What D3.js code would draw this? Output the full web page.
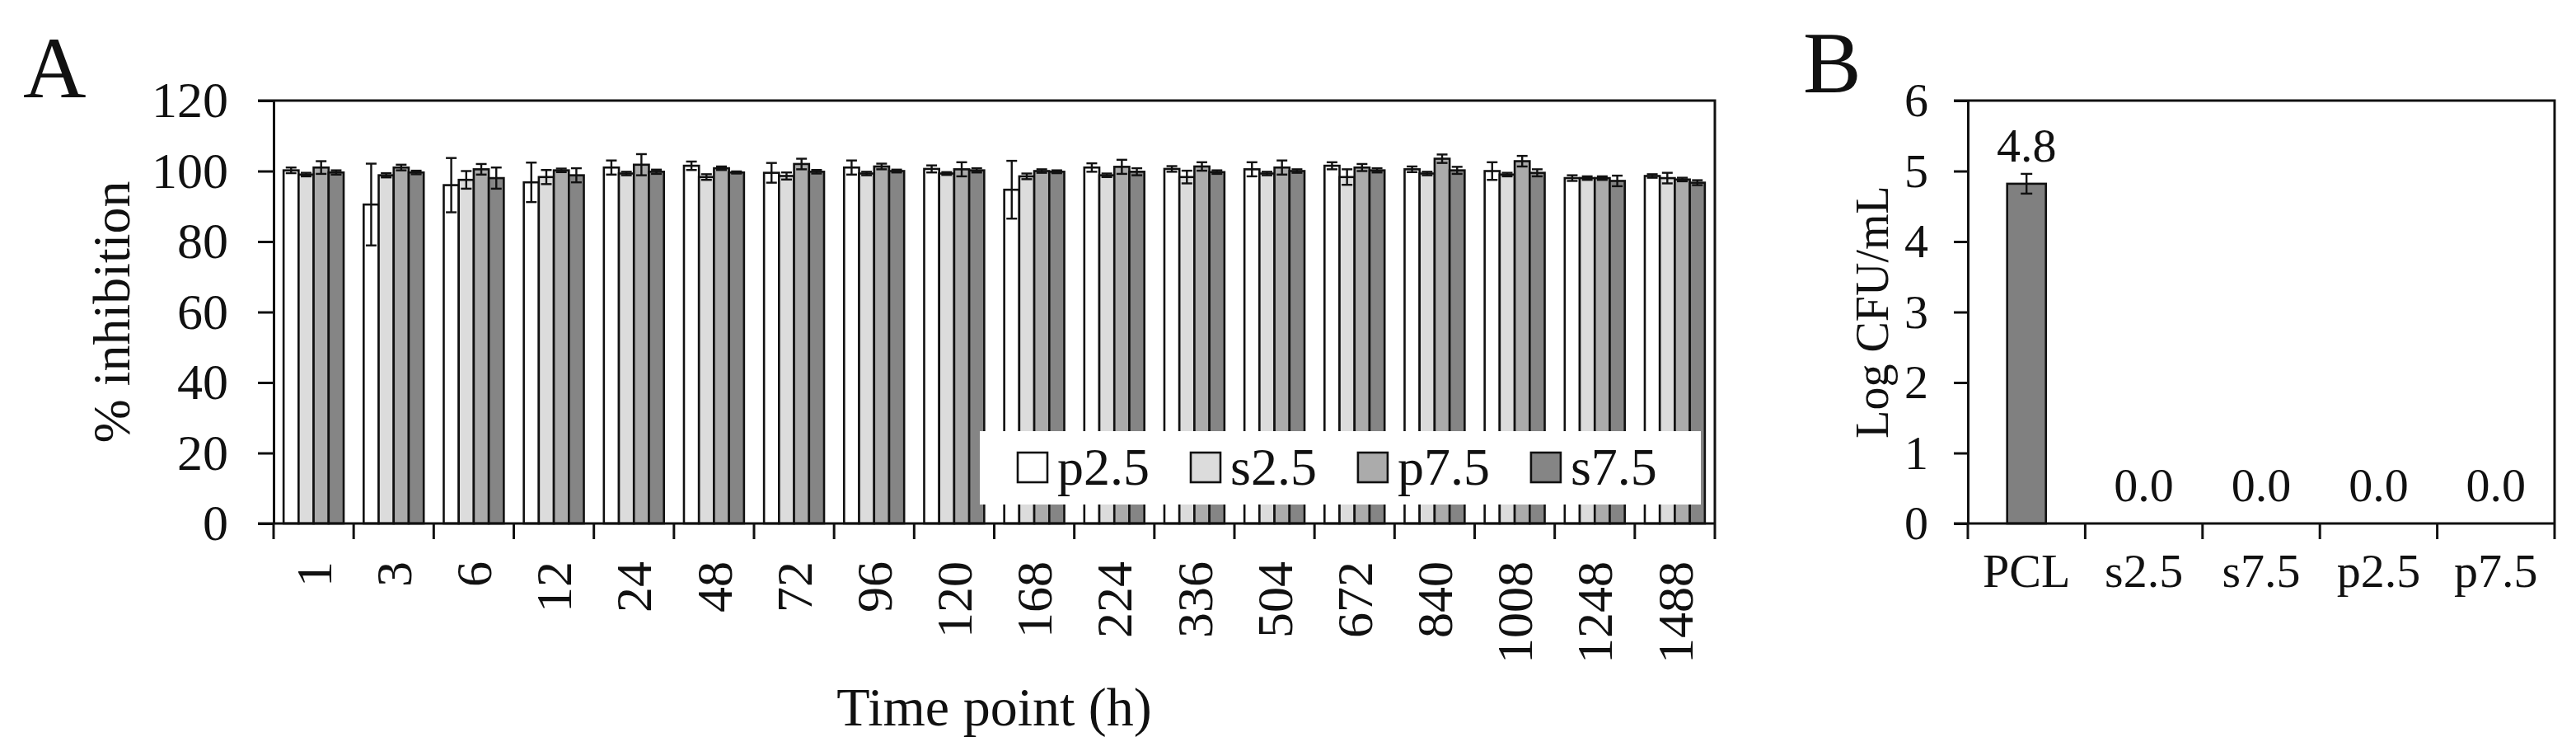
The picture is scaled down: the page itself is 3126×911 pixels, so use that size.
<!DOCTYPE html>
<html>
<head>
<meta charset="utf-8">
<script src="https://cdn.jsdelivr.net/npm/d3@7"></script>
<style>
  body { margin: 0; background: #fff; }
  text { font-family: "Times New Roman", "Liberation Serif", serif; fill: #111; }
</style>
</head>
<body>
<div id="chart"></div>
<script>
// panel A data
const times = ["1", "3", "6", "12", "24", "48", "72", "96", "120", "168", "224", "336", "504", "672", "840", "1008", "1248", "1488"];
const series = ["p2.5", "s2.5", "p7.5", "s7.5"];
const p25 = [100.2, 90.5, 96.0, 96.8, 101.0, 101.5, 99.5, 101.0, 100.6, 94.7, 101.0, 100.6, 100.5, 101.5, 100.5, 100.0, 98.0, 98.6];
const p25Err = [0.8, 11.6, 7.7, 5.6, 2.0, 1.2, 2.8, 2.0, 1.0, 8.2, 1.2, 0.8, 2.0, 1.0, 0.8, 2.5, 0.8, 0.5];
const s25 = [99.0, 98.8, 97.5, 98.3, 99.3, 98.3, 98.6, 99.3, 99.3, 98.5, 98.8, 98.3, 99.3, 98.3, 99.3, 99.0, 98.0, 98.0];
const s25Err = [0.5, 0.6, 2.5, 2.0, 0.5, 0.8, 1.0, 0.5, 0.4, 0.8, 0.5, 1.8, 0.5, 2.2, 0.5, 0.5, 0.5, 1.5];
const p75 = [101.0, 101.0, 100.5, 100.2, 101.8, 100.8, 102.0, 101.3, 100.5, 100.0, 101.2, 101.3, 101.0, 101.0, 103.5, 102.8, 98.0, 97.6];
const p75Err = [1.8, 0.8, 1.5, 0.5, 3.0, 0.5, 1.5, 0.8, 2.0, 0.5, 2.0, 1.2, 2.0, 1.0, 1.2, 1.5, 0.5, 0.5];
const s75 = [99.6, 99.6, 98.0, 98.8, 99.8, 99.6, 99.8, 100.0, 100.2, 99.8, 99.8, 99.7, 100.0, 100.2, 100.2, 99.5, 97.2, 96.7];
const s75Err = [0.6, 0.5, 3.0, 2.0, 0.6, 0.3, 0.5, 0.4, 0.6, 0.4, 1.0, 0.5, 0.5, 0.6, 1.0, 1.0, 1.5, 0.7];
const yTicksA = [0, 20, 40, 60, 80, 100, 120];

// panel B data
const groupsB = ["PCL", "s2.5", "s7.5", "p2.5", "p7.5"];
const cfu = [4.82, 0, 0, 0, 0];
const cfuErr = [0.14, 0, 0, 0, 0];
const yTicksB = [0, 1, 2, 3, 4, 5, 6];

const colors = ["#ffffff", "#dcdcdc", "#ababab", "#858585"];
const ink = "#111";

const W = 3126, H = 911;
const svg = d3.select("#chart").append("svg")
  .attr("width", W)
  .attr("height", H);

svg.append("rect").attr("width", W).attr("height", H).attr("fill", "#fff");

// ---------- panel A ----------
const A = { left: 332, right: 2081, top: 122, bottom: 635 };

const x0 = d3.scaleBand().domain(times).range([A.left, A.right]);
const bw = x0.bandwidth();
const x1 = d3.scaleBand().domain(series).range([bw * 0.125, bw * 0.875]);
const yA = d3.scaleLinear().domain([0, 120]).range([A.bottom, A.top]);

const vals = [p25, s25, p75, s75];
const errs = [p25Err, s25Err, p75Err, s75Err];
const rows = [];
series.forEach((s, si) => {
  times.forEach((t, ti) => {
    rows.push({ s: s, si: si, t: t, v: vals[si][ti], e: errs[si][ti] });
  });
});

const gA = svg.append("g");

gA.selectAll("rect.bar")
  .data(rows)
  .enter()
  .append("rect")
  .attr("class", "bar")
  .attr("x", d => x0(d.t) + x1(d.s))
  .attr("y", d => yA(d.v))
  .attr("width", x1.bandwidth())
  .attr("height", d => yA(0) - yA(d.v))
  .attr("fill", d => colors[d.si])
  .attr("stroke", ink)
  .attr("stroke-width", 2.6);

// error bars
const capA = 6.5;
const eb = gA.selectAll("g.err")
  .data(rows)
  .enter()
  .append("g")
  .attr("class", "err")
  .attr("stroke", ink)
  .attr("stroke-width", 2.4);
eb.append("line")
  .attr("x1", d => x0(d.t) + x1(d.s) + x1.bandwidth() / 2)
  .attr("x2", d => x0(d.t) + x1(d.s) + x1.bandwidth() / 2)
  .attr("y1", d => yA(d.v - d.e))
  .attr("y2", d => yA(d.v + d.e));
eb.append("line")
  .attr("x1", d => x0(d.t) + x1(d.s) + x1.bandwidth() / 2 - capA)
  .attr("x2", d => x0(d.t) + x1(d.s) + x1.bandwidth() / 2 + capA)
  .attr("y1", d => yA(d.v + d.e))
  .attr("y2", d => yA(d.v + d.e));
eb.append("line")
  .attr("x1", d => x0(d.t) + x1(d.s) + x1.bandwidth() / 2 - capA)
  .attr("x2", d => x0(d.t) + x1(d.s) + x1.bandwidth() / 2 + capA)
  .attr("y1", d => yA(d.v - d.e))
  .attr("y2", d => yA(d.v - d.e));

// legend (white box laid over the bars)
const leg = gA.append("g");
leg.append("rect")
  .attr("x", 1189).attr("y", 523)
  .attr("width", 875).attr("height", 89)
  .attr("fill", "#fff");
let lx = 1235;
series.forEach((s, i) => {
  leg.append("rect")
    .attr("x", lx).attr("y", 549)
    .attr("width", 36).attr("height", 36)
    .attr("fill", colors[i])
    .attr("stroke", ink)
    .attr("stroke-width", 2.6);
  const t = leg.append("text")
    .attr("x", lx + 48).attr("y", 588)
    .attr("font-size", 64)
    .text(s);
  lx += 48 + t.node().getComputedTextLength() + 50;
});

// frame
gA.append("path")
  .attr("d", `M${A.left - 19},${A.top}H${A.right}V${A.bottom + 19}`)
  .attr("fill", "none").attr("stroke", ink).attr("stroke-width", 3);

// y axis
const yAxisA = gA.append("g")
  .attr("transform", `translate(${A.left},0)`)
  .call(d3.axisLeft(yA).tickValues(yTicksA).tickFormat(d3.format("d")).tickSize(19).tickSizeOuter(0).tickPadding(36));
yAxisA.select(".domain").attr("stroke", ink).attr("stroke-width", 3);
yAxisA.selectAll(".tick line").attr("stroke", ink).attr("stroke-width", 3);
yAxisA.selectAll("text").attr("font-size", 62).attr("font-family", null).attr("fill", ink);

// x axis
const xAxisA = gA.append("g")
  .attr("transform", `translate(0,${A.bottom})`)
  .call(d3.axisBottom(x0).tickSize(0).tickSizeOuter(0));
xAxisA.select(".domain").remove();
xAxisA.selectAll("text")
  .attr("font-size", 62).attr("font-family", null).attr("fill", ink)
  .attr("transform", "rotate(-90)")
  .attr("text-anchor", "end")
  .attr("x", -46).attr("y", 0).attr("dy", "0.34em");
gA.append("line")
  .attr("x1", A.left - 19).attr("x2", A.right)
  .attr("y1", A.bottom).attr("y2", A.bottom)
  .attr("stroke", ink).attr("stroke-width", 3);
gA.selectAll("line.xtick")
  .data(times)
  .enter()
  .append("line")
  .attr("class", "xtick")
  .attr("x1", d => x0(d)).attr("x2", d => x0(d))
  .attr("y1", A.bottom).attr("y2", A.bottom + 19)
  .attr("stroke", ink).attr("stroke-width", 3);

gA.append("text")
  .attr("x", (A.left + A.right) / 2).attr("y", 880)
  .attr("text-anchor", "middle")
  .attr("font-size", 66)
  .text("Time point (h)");

gA.append("text")
  .attr("transform", `translate(157,${(A.top + A.bottom) / 2}) rotate(-90)`)
  .attr("text-anchor", "middle")
  .attr("font-size", 64)
  .text("% inhibition");

svg.append("text")
  .attr("x", 28).attr("y", 118)
  .attr("font-size", 106)
  .text("A");

// ---------- panel B ----------
const B = { left: 2388, right: 3100, top: 122, bottom: 635 };
const xB = d3.scaleBand().domain(groupsB).range([B.left, B.right]);
const yB = d3.scaleLinear().domain([0, 6]).range([B.bottom, B.top]);
const barB = xB.bandwidth() * 0.33;

const gB = svg.append("g");
const rowsB = groupsB.map((g, i) => ({ g: g, v: cfu[i], e: cfuErr[i] }));

gB.selectAll("rect.barB")
  .data(rowsB.filter(d => d.v > 0))
  .enter()
  .append("rect")
  .attr("class", "barB")
  .attr("x", d => xB(d.g) + (xB.bandwidth() - barB) / 2)
  .attr("y", d => yB(d.v))
  .attr("width", barB)
  .attr("height", d => yB(0) - yB(d.v))
  .attr("fill", "#808080")
  .attr("stroke", ink)
  .attr("stroke-width", 2.6);

const ebB = gB.selectAll("g.errB")
  .data(rowsB.filter(d => d.e > 0))
  .enter()
  .append("g")
  .attr("stroke", ink)
  .attr("stroke-width", 2.4);
const cx = d => xB(d.g) + xB.bandwidth() / 2;
ebB.append("line")
  .attr("x1", cx).attr("x2", cx)
  .attr("y1", d => yB(d.v - d.e)).attr("y2", d => yB(d.v + d.e));
[1, -1].forEach(sg => {
  ebB.append("line")
    .attr("x1", d => cx(d) - 7).attr("x2", d => cx(d) + 7)
    .attr("y1", d => yB(d.v + sg * d.e)).attr("y2", d => yB(d.v + sg * d.e));
});

gB.selectAll("text.val")
  .data(rowsB)
  .enter()
  .append("text")
  .attr("class", "val")
  .attr("x", cx)
  .attr("y", d => yB(d.v) - 27)
  .attr("text-anchor", "middle")
  .attr("font-size", 58)
  .text(d => d.v.toFixed(1));

gB.append("path")
  .attr("d", `M${B.left - 17},${B.top}H${B.right}V${B.bottom + 19}`)
  .attr("fill", "none").attr("stroke", ink).attr("stroke-width", 3);

const yAxisB = gB.append("g")
  .attr("transform", `translate(${B.left},0)`)
  .call(d3.axisLeft(yB).tickValues(yTicksB).tickFormat(d3.format("d")).tickSize(17).tickSizeOuter(0).tickPadding(31));
yAxisB.select(".domain").attr("stroke", ink).attr("stroke-width", 3);
yAxisB.selectAll(".tick line").attr("stroke", ink).attr("stroke-width", 3);
yAxisB.selectAll("text").attr("font-size", 58).attr("font-family", null).attr("fill", ink);

const xAxisB = gB.append("g")
  .attr("transform", `translate(0,${B.bottom})`)
  .call(d3.axisBottom(xB).tickSize(0).tickSizeOuter(0));
xAxisB.select(".domain").remove();
xAxisB.selectAll("text")
  .attr("font-size", 58).attr("font-family", null).attr("fill", ink)
  .attr("y", 77).attr("dy", 0);
gB.append("line")
  .attr("x1", B.left - 17).attr("x2", B.right)
  .attr("y1", B.bottom).attr("y2", B.bottom)
  .attr("stroke", ink).attr("stroke-width", 3);
gB.selectAll("line.xtickB")
  .data(groupsB)
  .enter()
  .append("line")
  .attr("x1", d => xB(d)).attr("x2", d => xB(d))
  .attr("y1", B.bottom).attr("y2", B.bottom + 19)
  .attr("stroke", ink).attr("stroke-width", 3);

gB.append("text")
  .attr("transform", `translate(2291,${(B.top + B.bottom) / 2}) rotate(-90)`)
  .attr("text-anchor", "middle")
  .attr("font-size", 56)
  .text("Log CFU/mL");

svg.append("text")
  .attr("x", 2188).attr("y", 112)
  .attr("font-size", 106)
  .text("B");
</script>
</body>
</html>
